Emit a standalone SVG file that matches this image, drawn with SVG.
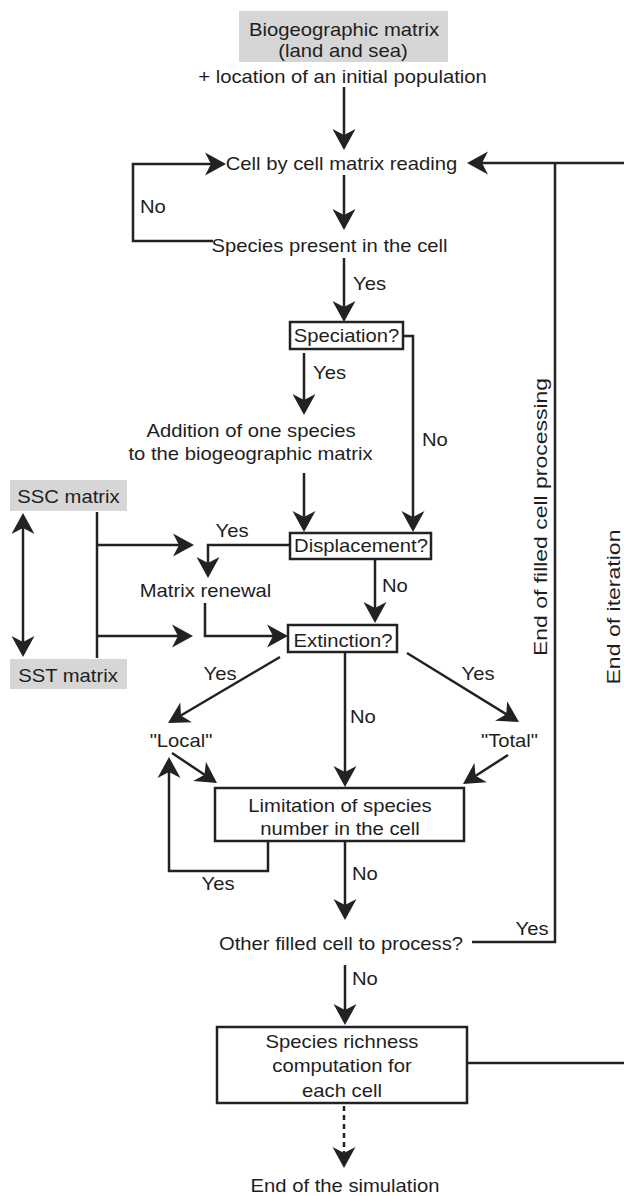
<svg xmlns="http://www.w3.org/2000/svg" width="624" height="1196" viewBox="0 0 624 1196">
<style>
text{font-family:"Liberation Sans",Arial,Helvetica,sans-serif;font-size:18px;fill:#1e1e1e}
.c{text-anchor:middle}
.box{fill:#fff;stroke:#222;stroke-width:2.5}
.gray{fill:#d6d6d6;stroke:none}
.ln{fill:none;stroke:#222;stroke-width:2.5;stroke-linejoin:miter}
.ar{marker-end:url(#ah)}
.dash{stroke-dasharray:5 4}
</style>
<defs>
<marker id="ah" markerUnits="userSpaceOnUse" orient="auto-start-reverse" overflow="visible" markerWidth="30" markerHeight="30" refX="0" refY="0">
<path d="M6,0 L-15,-11.5 L-9,0 L-15,11.5 Z" fill="#222"/>
</marker>
</defs>
<rect width="624" height="1196" fill="#fff"/>

<g id="connectors">
<path class="ln ar" d="M344,87 V144"/>
<path class="ln ar" d="M213,241 H133 V164 H220"/>
<path class="ln ar" d="M344,175 V224"/>
<path class="ln ar" d="M344,258 V316"/>
<path class="ln ar" d="M304,353 V409"/>
<path class="ln ar" d="M403,336 H413 V526"/>
<path class="ln ar" d="M304,473 V526"/>
<path class="ln ar" d="M290,545 H208 V572"/>
<path class="ln ar" d="M375,559 V617"/>
<path class="ln ar" d="M205,603 V636 H282"/>
<path class="ln" d="M97,512 V658"/>
<path class="ln ar" d="M97,545 H188"/>
<path class="ln ar" d="M97,636 H187"/>
<path class="ln ar" d="M23,519 V651" marker-start="url(#ah)"/>
<path class="ln ar" d="M280,657 L173.2,720"/>
<path class="ln ar" d="M345,652 V781"/>
<path class="ln ar" d="M407,653 L513.9,718.9"/>
<path class="ln ar" d="M172,753 L212,779.7"/>
<path class="ln ar" d="M508,755 L468,780.7"/>
<path class="ln ar" d="M268,841 V871 H169 V763"/>
<path class="ln ar" d="M345,841 V914"/>
<path class="ln" d="M472,942 H555 V163"/>
<path class="ln ar" d="M467,1063 H626 V163 H473"/>
<path class="ln ar" d="M345,965 V1019"/>
<path class="ln dash ar" d="M344,1106 V1162"/>
</g>

<g id="n-biogeo">
<rect class="gray" x="239" y="11" width="209" height="51"/>
<text class="c" transform="translate(344,36) scale(1.125,1)">Biogeographic matrix</text>
<text class="c" transform="translate(343,57) scale(1.125,1)">(land and sea)</text>
<text class="c" transform="translate(342.5,83) scale(1.125,1)">+ location of an initial population</text>
</g>
<g id="n-read"><text class="c" transform="translate(341.5,170) scale(1.125,1)">Cell by cell matrix reading</text></g>
<g id="n-present"><text class="c" transform="translate(329.5,252) scale(1.125,1)">Species present in the cell</text></g>
<g id="n-speciation">
<rect class="box" x="290" y="322" width="113" height="27"/>
<text class="c" transform="translate(346.5,342) scale(1.125,1)">Speciation?</text>
</g>
<g id="n-addition">
<text class="c" transform="translate(251,437) scale(1.125,1)">Addition of one species</text>
<text class="c" transform="translate(250.5,460) scale(1.125,1)">to the biogeographic matrix</text>
</g>
<g id="n-ssc">
<rect class="gray" x="10" y="480" width="117" height="31"/>
<text class="c" transform="translate(68.5,503) scale(1.125,1)">SSC matrix</text>
</g>
<g id="n-sst">
<rect class="gray" x="10" y="659" width="117" height="30"/>
<text class="c" transform="translate(68,682) scale(1.125,1)">SST matrix</text>
</g>
<g id="n-displacement">
<rect class="box" x="290" y="533" width="141" height="26"/>
<text class="c" transform="translate(361,552) scale(1.125,1)">Displacement?</text>
</g>
<g id="n-renewal"><text class="c" transform="translate(205.5,597) scale(1.125,1)">Matrix renewal</text></g>
<g id="n-extinction">
<rect class="box" x="288" y="625" width="109" height="27"/>
<text class="c" transform="translate(343,647) scale(1.125,1)">Extinction?</text>
</g>
<g id="n-local"><text class="c" transform="translate(181,747) scale(1.125,1)">"Local"</text></g>
<g id="n-total"><text class="c" transform="translate(509.5,747) scale(1.125,1)">"Total"</text></g>
<g id="n-limitation">
<rect class="box" x="215" y="788" width="249" height="53"/>
<text class="c" transform="translate(340,812) scale(1.125,1)">Limitation of species</text>
<text class="c" transform="translate(340,835) scale(1.125,1)">number in the cell</text>
</g>
<g id="n-other"><text class="c" transform="translate(341,950) scale(1.125,1)">Other filled cell to process?</text></g>
<g id="n-richness">
<rect class="box" x="217" y="1027" width="250" height="76"/>
<text class="c" transform="translate(342,1048) scale(1.125,1)">Species richness</text>
<text class="c" transform="translate(342,1072) scale(1.125,1)">computation for</text>
<text class="c" transform="translate(342,1097) scale(1.125,1)">each cell</text>
</g>
<g id="n-end"><text class="c" transform="translate(345,1192) scale(1.125,1)">End of the simulation</text></g>

<g id="labels">
<text transform="translate(140,213) scale(1.125,1)">No</text>
<text transform="translate(353,290) scale(1.125,1)">Yes</text>
<text transform="translate(313,379) scale(1.125,1)">Yes</text>
<text transform="translate(422,446) scale(1.125,1)">No</text>
<text class="c" transform="translate(232,537) scale(1.125,1)">Yes</text>
<text transform="translate(382,592) scale(1.125,1)">No</text>
<text class="c" transform="translate(220,680) scale(1.125,1)">Yes</text>
<text class="c" transform="translate(478,680) scale(1.125,1)">Yes</text>
<text transform="translate(350,723) scale(1.125,1)">No</text>
<text class="c" transform="translate(218,890) scale(1.125,1)">Yes</text>
<text transform="translate(352,880) scale(1.125,1)">No</text>
<text class="c" transform="translate(532,935) scale(1.125,1)">Yes</text>
<text transform="translate(352,985) scale(1.125,1)">No</text>
<text class="c" transform="translate(547,517) rotate(-90)" textLength="278" lengthAdjust="spacingAndGlyphs">End of filled cell processing</text>
<text class="c" transform="translate(620,607) rotate(-90)" textLength="155" lengthAdjust="spacingAndGlyphs">End of iteration</text>
</g>
</svg>
